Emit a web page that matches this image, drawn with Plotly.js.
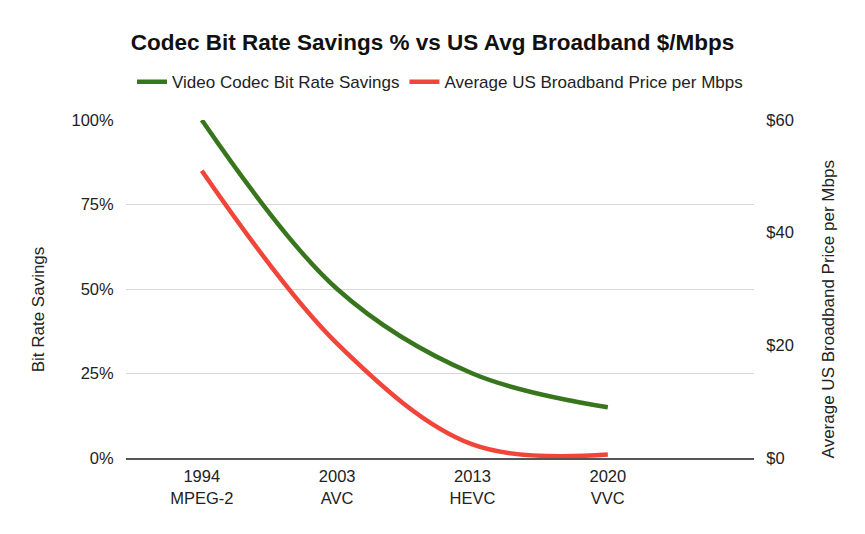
<!DOCTYPE html>
<html>
<head>
<meta charset="utf-8">
<script src="https://cdn.plot.ly/plotly-3.0.1.min.js"></script>
<style>
    html, body { margin: 0; padding: 0; background: #ffffff; }
    #chart { width: 865px; height: 534px; }
</style>
</head>
<body>
<div id="chart"></div>
<script>
// Codec generations (year + codec name)
const categories = ['1994<br>MPEG-2', '2003<br>AVC', '2013<br>HEVC', '2020<br>VVC'];

// Bit rate savings relative to MPEG-2 (fraction)
const bitRateSavings = [1.00, 0.50, 0.25, 0.15];

// Average US broadband price per Mbps (USD)
const pricePerMbps = [51, 20.3, 2.4, 0.6];

const leftTicks = [0, 0.25, 0.5, 0.75, 1];
const rightTicks = [0, 20, 40, 60];
const rightTickText = ['$0', '$20', '$40', '$60'];

const font = 'Liberation Sans, Arial, sans-serif';
const textColor = '#222222';

const savingsTrace = {
    type: 'scatter',
    mode: 'lines',
    x: categories,
    y: bitRateSavings,
    name: 'Video Codec Bit Rate Savings',
    line: { color: '#38761d', width: 4.5, shape: 'spline', smoothing: 1 },
    yaxis: 'y',
    cliponaxis: false
};

const priceTrace = {
    type: 'scatter',
    mode: 'lines',
    x: categories,
    y: pricePerMbps,
    name: 'Average US Broadband Price per Mbps',
    line: { color: '#f1453a', width: 4.5, shape: 'spline', smoothing: 1 },
    yaxis: 'y2',
    cliponaxis: false
};

// Axis titles sit a little below the plot's middle, so they are drawn as annotations
const axisTitle = (text, x) => ({
    text: text,
    xref: 'paper',
    yref: 'paper',
    x: x,
    y: 0.44,
    xanchor: 'center',
    yanchor: 'middle',
    textangle: -90,
    showarrow: false,
    font: { size: 17, family: font, color: textColor }
});

const layout = {
    width: 865,
    height: 534,
    title: {
        text: '<b>Codec Bit Rate Savings % vs US Avg Broadband $/Mbps</b>',
        font: { size: 22.5, family: font, color: '#111111' },
        x: 0.5,
        xanchor: 'center',
        y: 0.922,
        yanchor: 'middle'
    },
    xaxis: {
        type: 'category',
        range: [-0.56, 4.08],
        showgrid: false,
        showline: true,
        linecolor: '#555555',
        linewidth: 1.5,
        ticks: 'outside',
        ticklen: 3,
        tickcolor: 'rgba(0,0,0,0)',
        tickfont: { size: 16.5, family: font, color: textColor },
        zeroline: false
    },
    yaxis: {
        range: [0, 1],
        tickvals: leftTicks,
        tickformat: '.0%',
        showgrid: true,
        gridcolor: '#d9d9d9',
        gridwidth: 1,
        ticks: 'outside',
        ticklen: 8,
        tickcolor: 'rgba(0,0,0,0)',
        tickfont: { size: 16.5, family: font, color: textColor },
        zeroline: false
    },
    yaxis2: {
        side: 'right',
        overlaying: 'y',
        range: [0, 60],
        tickvals: rightTicks,
        ticktext: rightTickText,
        showgrid: false,
        ticks: 'outside',
        ticklen: 8,
        tickcolor: 'rgba(0,0,0,0)',
        tickfont: { size: 16.5, family: font, color: textColor },
        zeroline: false
    },
    annotations: [
        axisTitle('Bit Rate Savings', -0.14),
        axisTitle('Average US Broadband Price per Mbps', 1.118)
    ],
    legend: {
        orientation: 'h',
        x: 0.5,
        xanchor: 'center',
        y: 1.112,
        yanchor: 'middle',
        font: { size: 17, family: font, color: textColor },
        itemwidth: 30,
        bgcolor: 'rgba(0,0,0,0)'
    },
    plot_bgcolor: '#ffffff',
    paper_bgcolor: '#ffffff',
    margin: { t: 120, b: 76, l: 126, r: 111 },
    showlegend: true
};

const config = {
    responsive: false,
    displayModeBar: false,
    staticPlot: true
};

Plotly.newPlot('chart', [savingsTrace, priceTrace], layout, config);
</script>
</body>
</html>
